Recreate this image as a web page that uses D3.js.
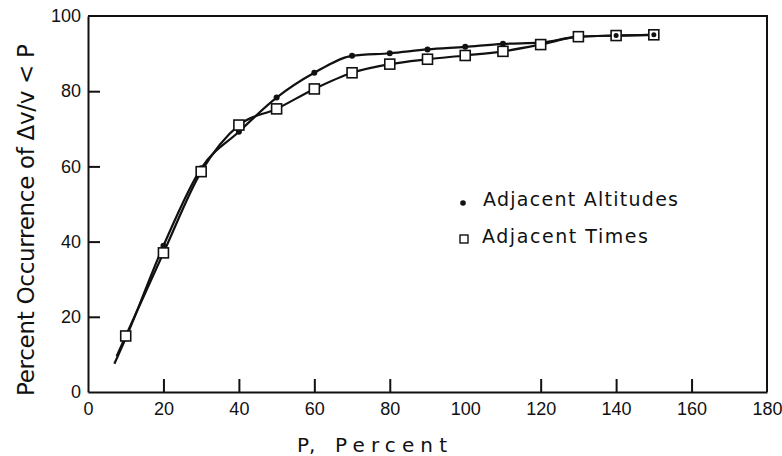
<!DOCTYPE html>
<html lang="en">
  <head>
    <meta charset="utf-8">
    <title>Percent occurrence of dv/v &lt; P</title>
    <style>
      body { margin: 0; background: #fff; }
      svg { display: block; font-family: "DejaVu Sans", sans-serif; }
      .axis path, .axis line { stroke: #111; stroke-width: 2; }
      .axis text { font-size: 18px; fill: #111; }
      .curve { fill: none; stroke: #111; stroke-width: 2.2; }
    </style>
  </head>
  <body>
    <svg width="782" height="456"></svg>

    <script src="https://cdn.jsdelivr.net/npm/d3@7"></script>
    <script>

    // values
    var altX = [7, 10, 20, 30, 40, 50, 60, 70, 80, 90, 100, 110, 120, 130, 140, 150];
    var altY = [7.5, 14.3, 38.9, 59.5, 69.2, 78.3, 84.9, 89.4, 90.1, 91.1, 91.8, 92.6, 92.9, 94.5, 94.8, 95.0];

    var timeX = [7.6, 10, 20, 30, 40, 50, 60, 70, 80, 90, 100, 110, 120, 130, 140, 150];
    var timeY = [9.5, 14.9, 37.0, 58.6, 71.0, 75.3, 80.6, 84.9, 87.2, 88.5, 89.5, 90.6, 92.4, 94.5, 94.8, 95.0];

    var xTicks = [0, 20, 40, 60, 80, 100, 120, 140, 160, 180];
    var yTicks = [0, 20, 40, 60, 80, 100];

    var svg = d3.select("svg");

    var x = d3.scaleLinear().domain([0, 180]).range([88, 767]);
    var y = d3.scaleLinear().domain([0, 100]).range([392, 16]);

    // frame: top and right sides
    svg.append("path")
        .attr("d", "M" + x(0) + "," + y(100) + "H" + x(180) + "V" + y(0))
        .attr("fill", "none")
        .attr("stroke", "#111")
        .attr("stroke-width", 2);

    svg.append("g")
        .attr("class", "axis")
        .attr("transform", "translate(0," + y(0) + ")")
        .call(d3.axisBottom(x).tickValues(xTicks).tickSizeInner(-13).tickSizeOuter(0).tickPadding(10));

    svg.append("g")
        .attr("class", "axis")
        .attr("transform", "translate(" + x(0) + ",0)")
        .call(d3.axisLeft(y).tickValues(yTicks).tickSizeInner(-12).tickSizeOuter(0).tickPadding(7));

    // hide tick marks that sit on the corners
    svg.selectAll(".axis .tick").filter(function(d) { return d === 0 || d === 100 || d === 180; })
        .select("line").remove();

    var line = d3.line()
        .x(function(d) { return x(d[0]); })
        .y(function(d) { return y(d[1]); })
        .curve(d3.curveMonotoneX);

    var alt = d3.zip(altX, altY),
        times = d3.zip(timeX, timeY);

    svg.append("path").attr("class", "curve").attr("d", line(alt));
    svg.append("path").attr("class", "curve").attr("d", line(times));

    svg.selectAll(".dot")
        .data(alt.slice(1))
      .enter().append("circle")
        .attr("class", "dot")
        .attr("cx", function(d) { return x(d[0]); })
        .attr("cy", function(d) { return y(d[1]); })
        .attr("r", 3)
        .attr("fill", "#111");

    var sq = 10;
    svg.selectAll(".sq")
        .data(times.slice(1))
      .enter().append("rect")
        .attr("class", "sq")
        .attr("x", function(d) { return x(d[0]) - sq / 2; })
        .attr("y", function(d) { return y(d[1]) - sq / 2; })
        .attr("width", sq)
        .attr("height", sq)
        .attr("fill", "#fff")
        .attr("stroke", "#111")
        .attr("stroke-width", 1.6);

    // redraw the dots that sit inside squares at the top end
    svg.selectAll(".dot2")
        .data(alt.filter(function(d) { return d[0] >= 140; }))
      .enter().append("circle")
        .attr("cx", function(d) { return x(d[0]); })
        .attr("cy", function(d) { return y(d[1]); })
        .attr("r", 2.5)
        .attr("fill", "#111");

    // legend
    svg.append("circle").attr("cx", 463).attr("cy", 203).attr("r", 2.8).attr("fill", "#111");
    svg.append("text")
        .attr("x", 483).attr("y", 206)
        .attr("textLength", 195).attr("lengthAdjust", "spacing")
        .style("font-size", "19px").attr("fill", "#111")
        .text("Adjacent Altitudes");

    svg.append("rect").attr("x", 460).attr("y", 235).attr("width", 8).attr("height", 8)
        .attr("fill", "#fff").attr("stroke", "#111").attr("stroke-width", 1.4);
    svg.append("text")
        .attr("x", 482).attr("y", 243)
        .attr("textLength", 166).attr("lengthAdjust", "spacing")
        .style("font-size", "19px").attr("fill", "#111")
        .text("Adjacent Times");

    // axis titles
    svg.append("text")
        .attr("x", 297).attr("y", 452)
        .style("font-size", "20px").attr("fill", "#111")
        .text("P,");
    svg.append("text")
        .attr("x", 335).attr("y", 452)
        .attr("textLength", 112).attr("lengthAdjust", "spacing")
        .style("font-size", "20px").attr("fill", "#111")
        .text("Percent");

    svg.append("text")
        .attr("transform", "translate(34,220) rotate(-90)")
        .attr("text-anchor", "middle")
        .attr("textLength", 352).attr("lengthAdjust", "spacing")
        .style("font-size", "23px").attr("fill", "#111")
        .text("Percent Occurrence of \u0394v/v < P");

    </script>
  </body>
</html>
